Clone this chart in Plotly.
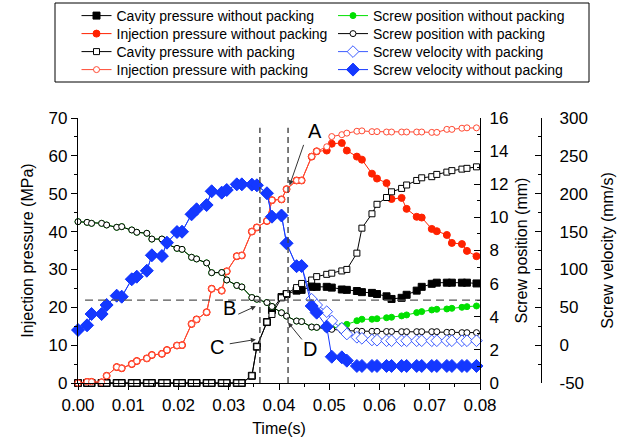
import plotly.graph_objects as go

# ---------------- data ----------------
time_s = [0.0000, 0.0018, 0.0027, 0.0047, 0.0057, 0.0077, 0.0087, 0.0107, 0.0117, 0.0137,
          0.0147, 0.0167, 0.0177, 0.0197, 0.0207, 0.0226, 0.0236, 0.0256, 0.0266, 0.0286,
          0.0296, 0.0316, 0.0326, 0.0346, 0.0356, 0.0376, 0.0386, 0.0405, 0.0415, 0.0435,
          0.0445, 0.0465, 0.0475, 0.0495, 0.0505, 0.0525, 0.0535, 0.0555, 0.0565, 0.0585,
          0.0595, 0.0614, 0.0624, 0.0644, 0.0654, 0.0674, 0.0684, 0.0704, 0.0714, 0.0734,
          0.0744, 0.0764, 0.0774, 0.0793]

# Cavity pressure (MPa)
cavity_without = [0, 0, 0, 0, 0, 0, 0, 0, 0, 0,
                  0, 0, 0, 0, 0, 0, 0, 0, 0, 0,
                  0, 0, 0, 1.9, 9.6, 16.1, 19.3, 22.7, 23.5, 24.4,
                  24.6, 25.4, 25.4, 25.4, 25.2, 24.7, 24.6, 24.3, 24.0, 23.8,
                  23.5, 22.9, 22.2, 22.5, 23.3, 24.4, 25.4, 26.2, 26.5, 26.5,
                  26.5, 26.5, 26.5, 26.3]
cavity_with = [0, 0, 0, 0, 0, 0, 0, 0, 0, 0,
               0, 0, 0, 0, 0, 0, 0, 0, 0, 0,
               0, 0, 0, 1.9, 9.6, 16.1, 18.1, 22.5, 23.6, 25.2,
               26.3, 27.2, 28.1, 28.7, 29.0, 29.6, 30.0, 34.3, 40.9, 44.7,
               47.2, 49.0, 50.5, 51.4, 52.3, 53.5, 54.2, 54.5, 55.1, 55.7,
               56.1, 56.5, 56.7, 57.1]

# Injection pressure (MPa)
injection_without = [0.0, 0.3, 0.3, 0.2, 1.9, 4.2, 3.9, 5.0, 5.8, 6.5,
                     7.4, 7.7, 8.7, 9.9, 10.0, 15.6, 16.8, 18.7, 24.9, 24.4,
                     29.5, 33.5, 33.7, 40.0, 41.1, 42.8, 48.3, 48.5, 51.2, 53.5,
                     53.5, 59.8, 61.2, 61.4, 63.2, 63.4, 61.4, 59.8, 59.0, 55.3,
                     54.0, 52.8, 48.6, 48.9, 46.0, 43.9, 43.7, 40.7, 40.1, 39.1,
                     37.0, 36.7, 34.9, 33.5]
injection_with = [0.0, 0.3, 0.3, 0.2, 1.9, 4.2, 3.9, 5.0, 5.8, 6.5,
                  7.4, 7.7, 8.7, 9.9, 10.0, 15.6, 16.8, 18.7, 24.9, 24.4,
                  29.5, 33.5, 33.7, 40.0, 41.1, 42.8, 48.3, 48.5, 51.2, 53.5,
                  53.5, 59.8, 61.2, 62.4, 65.1, 65.6, 66.0, 66.5, 66.6, 66.4,
                  66.4, 66.3, 66.3, 66.3, 66.3, 66.3, 66.3, 66.2, 66.2, 67.0,
                  67.0, 67.3, 67.4, 67.4]

# Screw position (mm)
position_without = [9.74, 9.70, 9.64, 9.64, 9.54, 9.40, 9.44, 9.24, 9.10, 9.04,
                    8.69, 8.69, 8.39, 8.13, 8.07, 7.59, 7.49, 7.25, 6.66, 6.67,
                    6.22, 5.89, 5.80, 5.16, 5.06, 4.86, 4.62, 4.24, 4.04, 3.74,
                    3.71, 3.38, 3.36, 3.28, 3.30, 3.44, 3.54, 3.76, 3.85, 3.85,
                    3.88, 3.94, 3.97, 4.05, 4.11, 4.25, 4.31, 4.41, 4.45, 4.47,
                    4.51, 4.57, 4.61, 4.65]
position_with = [9.74, 9.70, 9.64, 9.64, 9.54, 9.40, 9.44, 9.24, 9.10, 9.04,
                 8.69, 8.69, 8.39, 8.13, 8.07, 7.59, 7.49, 7.25, 6.66, 6.67,
                 6.22, 5.89, 5.80, 5.16, 5.06, 4.86, 4.62, 4.24, 4.04, 3.74,
                 3.71, 3.38, 3.36, 3.28, 3.24, 3.18, 3.16, 3.14, 3.12, 3.12,
                 3.12, 3.11, 3.11, 3.10, 3.10, 3.10, 3.10, 3.10, 3.10, 3.06,
                 3.06, 3.04, 3.04, 3.04]

# Screw velocity (mm/s)
velocity_with = [20.0, 26.2, 41.1, 41.1, 53.0, 65.3, 64.0, 87.0, 90.4, 98.3,
                 118.7, 117.7, 135.3, 149.4, 149.8, 172.8, 179.4, 185.1, 203.2, 201.4,
                 204.9, 212.4, 212.4, 212.0, 211.1, 200.6, 169.7, 171.2, 134.5, 104.3,
                 104.5, 60.6, 53.0, 44.2, 32.0, 22.2, 14.7, 10.4, 9.0, 6.8,
                 6.5, 5.8, 5.8, 5.8, 5.8, 5.8, 5.8, 5.8, 5.8, 5.8,
                 5.8, 5.8, 5.8, 5.8]
velocity_without = [20.0, 26.2, 41.1, 41.1, 53.0, 65.3, 64.0, 87.0, 90.4, 98.3,
                    118.7, 117.7, 135.3, 149.4, 149.8, 172.8, 179.4, 185.1, 203.2, 201.4,
                    204.9, 212.4, 212.4, 212.0, 211.1, 200.6, 169.7, 171.2, 134.5, 104.3,
                    104.5, 51.7, 42.9, 24.4, -15.3, -16.1, -20.5, -27.5, -27.5, -27.5,
                    -27.5, -27.5, -27.5, -27.5, -27.5, -27.5, -27.5, -27.5, -27.5, -27.5,
                    -27.5, -27.5, -27.5, -27.5]

# velocity axis tick labels (plain hyphen minus as in the original)
velocity_ticks = [-50, 0, 50, 100, 150, 200, 250, 300]
velocity_tick_text = ["-50", "0", "50", "100", "150", "200", "250", "300"]

# reference markers
vline_times = [0.0362, 0.0418]
vline_top = 67.4
hline_position = 5.0
labels = ["A", "B", "C", "D"]
label_xy = [(0.0471, 66.6), (0.0302, 19.9), (0.0276, 9.6), (0.0462, 9.0)]
arrow_tail = [(0.0450, 63.3), (0.0316, 18.0), (0.0299, 10.3), (0.0448, 11.1)]
arrow_head = [(0.0421, 52.2), (0.0354, 20.3), (0.0354, 11.5), (0.0418, 16.0)]

# ---------------- styling ----------------
FONT = "Arial, Liberation Sans, sans-serif"
RED = "#FF2200"
RED_O = "#FF4A33"
GREEN = "#00E000"
BLUE = "#1438FF"
BLUE_O = "#3D5CFF"

fig = go.Figure()

def add(y, name, yaxis, color, symbol, size, fill, legend):
    fig.add_trace(go.Scatter(
        x=time_s, y=y, name=name, yaxis=yaxis, mode="lines+markers",
        line=dict(color=color, width=1),
        marker=dict(symbol=symbol, size=size, color=fill,
                    line=dict(color=color, width=1)),
        cliponaxis=False, legend=legend, showlegend=True))

add(cavity_without, "Cavity pressure without packing", "y", "black", "square", 7, "black", "legend")
add(injection_without, "Injection pressure without packing", "y", RED, "circle", 7, RED, "legend2")
add(cavity_with, "Cavity pressure with packing", "y", "black", "square", 6, "white", "legend3")
add(injection_with, "Injection pressure with packing", "y", RED_O, "circle", 6, "white", "legend4")
add(position_without, "Screw position without packing", "y2", GREEN, "circle", 6, GREEN, "legend5")
add(position_with, "Screw position with packing", "y2", "black", "circle", 6, "white", "legend6")
add(velocity_with, "Screw velocity with packing", "y3", BLUE_O, "diamond", 9, "white", "legend7")
add(velocity_without, "Screw velocity without packing", "y3", BLUE, "diamond", 10, BLUE, "legend8")

# canvas geometry (pixels); the paper covers everything above the x-axis labels
W, H = 635, 442
B = 59
PAPER_H = H - B
X0, X1 = 78, 480        # plot area left/right
Y_TOP = 118             # plot area top


def px_x(px):
    return px / W


def px_y(py):
    return (PAPER_H - py) / PAPER_H


leg_left = [px_x(76.5), px_x(333)]
row_y = [16, 34, 52, 70]
legend_names = ["legend", "legend2", "legend3", "legend4",
                "legend5", "legend6", "legend7", "legend8"]
for i, ln in enumerate(legend_names):
    col = i // 4
    row = i % 4
    fig.layout[ln] = dict(x=leg_left[col], y=px_y(row_y[row]), xanchor="left", yanchor="middle",
                          bgcolor="rgba(0,0,0,0)", borderwidth=0, itemwidth=30, visible=True,
                          font=dict(family=FONT, size=14, color="black"))

axis_common = dict(showline=True, linecolor="black", linewidth=1.2, showgrid=False,
                   zeroline=False, tickcolor="black", tickwidth=1.2, automargin=False,
                   tickfont=dict(family=FONT, size=17, color="black"))

fig.update_layout(
    width=W, height=H, margin=dict(l=0, r=0, t=0, b=B, pad=0, autoexpand=False),
    paper_bgcolor="white", plot_bgcolor="white", showlegend=True,
    font=dict(family=FONT, color="black"),
    xaxis=dict(domain=[px_x(X0), px_x(X1)], range=[0, 0.08], dtick=0.01, tick0=0,
               tickformat=".2f", ticks="outside", ticklen=6,
               minor=dict(ticks="outside", ticklen=3, dtick=0.005, tickcolor="black"),
               title=dict(text="Time(s)", font=dict(family=FONT, size=16), standoff=9),
               **axis_common),
    yaxis=dict(domain=[0, px_y(Y_TOP)], range=[0, 70], dtick=10, ticks="outside", ticklen=6,
               minor=dict(ticks="outside", ticklen=3, dtick=5, tickcolor="black"),
               title=dict(text="Injection pressure (MPa)", font=dict(family=FONT, size=16), standoff=10),
               **axis_common),
    yaxis2=dict(overlaying="y", side="right", anchor="x", range=[0, 16], dtick=2,
                ticks="inside", ticklen=6, ticklabelstandoff=5,
                minor=dict(ticks="inside", ticklen=3, dtick=1, tickcolor="black"),
                title=dict(text="Screw position (mm)", font=dict(family=FONT, size=16), standoff=8),
                **axis_common),
    yaxis3=dict(overlaying="y", side="right", anchor="free", position=px_x(541),
                range=[-50, 300], tickmode="array", tickvals=velocity_ticks,
                ticktext=velocity_tick_text, ticks="inside", ticklen=6, ticklabelstandoff=14,
                minor=dict(ticks="inside", ticklen=3, dtick=25, tickcolor="black"),
                title=dict(text="Screw velocity (mm/s)", font=dict(family=FONT, size=16), standoff=14),
                **axis_common),
)

# legend frame
fig.add_shape(type="rect", xref="paper", yref="paper",
              x0=px_x(55), x1=px_x(589), y0=px_y(82), y1=px_y(3),
              line=dict(color="black", width=1), fillcolor="rgba(0,0,0,0)", layer="above")

# dashed reference lines
for t in vline_times:
    fig.add_shape(type="line", xref="x", yref="y", x0=t, x1=t, y0=0, y1=vline_top,
                  line=dict(color="#444444", width=1.4, dash="6px,4px"))
fig.add_shape(type="line", xref="x", yref="y2", x0=0.0014, x1=0.08,
              y0=hline_position, y1=hline_position,
              line=dict(color="#555555", width=1.3, dash="8px,5px"))

# labels and arrows
for txt, (lx, ly), (tx, ty), (hx, hy) in zip(labels, label_xy, arrow_tail, arrow_head):
    fig.add_annotation(x=lx, y=ly, xref="x", yref="y", text=txt, showarrow=False,
                       font=dict(family=FONT, size=20, color="black"))
    fig.add_annotation(x=hx, y=hy, ax=tx, ay=ty, xref="x", yref="y", axref="x", ayref="y",
                       text="", showarrow=True, arrowhead=2, arrowsize=1, arrowwidth=1,
                       arrowcolor="#333333")

fig.write_html("out.html")
